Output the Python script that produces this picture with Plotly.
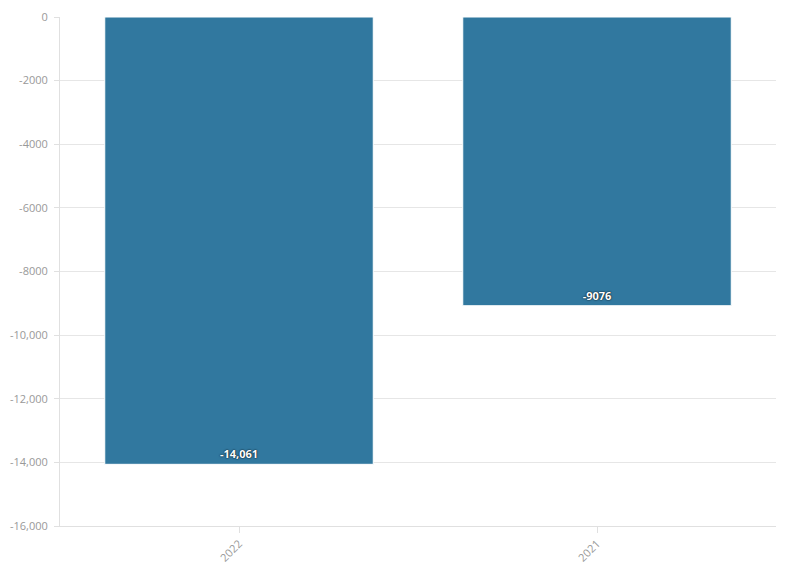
import plotly.graph_objects as go

years = ['2022', '2021']
values = [-14061, -9076]
value_labels = ['-14,061', '-9076']
y_ticks = [0, -2000, -4000, -6000, -8000, -10000, -12000, -14000, -16000]
y_tick_text = ['0', '-2000', '-4000', '-6000', '-8000', '-10,000', '-12,000', '-14,000', '-16,000']

fig = go.Figure()
fig.add_trace(go.Bar(
    x=years, y=values,
    text=value_labels,
    textposition='inside',
    insidetextanchor='end',
    textangle=0,
    textfont=dict(color='white', size=11, family='Open Sans', weight='bold',
                  shadow='0px 0px 2px rgba(0,0,0,0.8), 0px 0px 1px rgba(0,0,0,0.6)'),
    marker=dict(color='#31789f', line=dict(width=1, color='white')),
    width=0.75,
    hoverinfo='skip',
))

# page body has an 8px margin, so shift the plot area back
fig.update_layout(
    width=796, height=575,
    margin=dict(l=52, r=28, t=9, b=57),
    plot_bgcolor='white', paper_bgcolor='white',
    font=dict(family='Open Sans', size=11, color='#999999'),
    showlegend=False,
    bargap=0.25,
)
fig.update_xaxes(
    type='category', tickangle=-45, automargin=False,
    showline=True, linecolor='#e0e0e0', linewidth=1,
    ticks='outside', ticklen=6, tickcolor='#e0e0e0',
    showgrid=False, tickfont=dict(size=11, color='#999999'),
)
fig.update_yaxes(
    range=[-16000, 0], automargin=False,
    tickvals=y_ticks, ticktext=y_tick_text,
    showgrid=True, gridcolor='#e6e6e6',
    showline=True, linecolor='#e0e0e0',
    ticks='outside', ticklen=5, tickcolor='#e0e0e0',
    ticklabelstandoff=4,
    zeroline=False,
    tickfont=dict(size=11, color='#999999'),
)

fig.write_html("out.html")
